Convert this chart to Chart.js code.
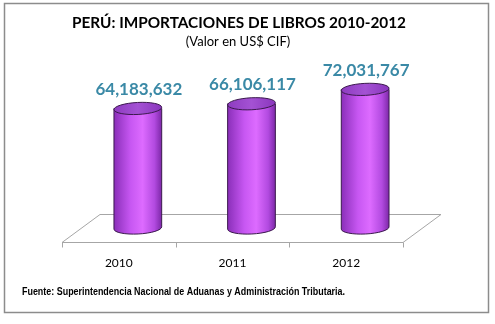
<!DOCTYPE html>
<html>
<head>
<meta charset="utf-8">
<script src="https://cdn.jsdelivr.net/npm/chart.js@4.4.1/dist/chart.umd.min.js"></script>
<style>
  html, body { margin: 0; padding: 0; background: #fff; }
  #wrap { width: 495px; height: 324px; position: relative; }
</style>
</head>
<body>
<div id="wrap"><canvas id="chart" width="495" height="324"></canvas></div>
<script>
const years = ['2010', '2011', '2012'];
const imports = [64183632, 66106117, 72031767];
const titleText = 'PERÚ: IMPORTACIONES DE LIBROS 2010-2012';
const subtitleText = '(Valor en US$ CIF)';
const sourceText = 'Fuente: Superintendencia Nacional de Aduanas y Administración Tributaria.';

// 3d look of the floor
const depthX = 38;
const depthY = 28;

const fmt = (v) => v.toLocaleString('en-US');

const cylinders = {
    id: 'cylinders',
    beforeDraw: (chart) => {
        const ctx = chart.ctx;
        ctx.save();
        ctx.fillStyle = '#fff';
        ctx.fillRect(0, 0, chart.width, chart.height);
        // outer border
        ctx.strokeStyle = '#8c8c8c';
        ctx.lineWidth = 1.5;
        ctx.strokeRect(4.5, 3.5, 484, 309);
        // titles
        ctx.fillStyle = '#000';
        ctx.textAlign = 'center';
        ctx.textBaseline = 'middle';
        ctx.font = 'bold 16px Lato';
        ctx.fillText(titleText, 239, 23, 334);
        ctx.font = '13px Lato';
        ctx.fillText(subtitleText, 238, 42, 108);
        ctx.textAlign = 'left';
        ctx.font = 'bold 10.5px "Liberation Sans"';
        ctx.fillText(sourceText, 22, 292, 323);
        ctx.restore();
    },
    beforeDatasetsDraw: (chart) => {
        const ctx = chart.ctx;
        const a = chart.chartArea;
        const xs = chart.scales.x;
        const y0 = Math.round(a.bottom) + 0.5;
        ctx.save();
        ctx.strokeStyle = '#a6a6a6';
        ctx.lineWidth = 1;
        ctx.beginPath();
        ctx.moveTo(a.left, y0);
        ctx.lineTo(a.right, y0);
        ctx.lineTo(a.right + depthX, y0 - depthY);
        ctx.lineTo(a.left + depthX, y0 - depthY);
        ctx.closePath();
        ctx.stroke();
        const step = (a.right - a.left) / years.length;
        for (let i = 0; i <= years.length; i++) {
            const x = Math.round(xs.left + i * step) + 0.5;
            ctx.beginPath();
            ctx.moveTo(x, y0);
            ctx.lineTo(x, y0 + 5);
            ctx.stroke();
        }
        ctx.restore();
    },
    afterDatasetsDraw: (chart) => {
        const ctx = chart.ctx;
        const meta = chart.getDatasetMeta(0);
        const bottom = chart.chartArea.bottom;
        meta.data.forEach((bar, i) => {
            const cx = bar.x + depthX / 2;
            const top = bar.y - depthY / 2;
            const base = bottom - depthY / 2;
            const rx = bar.width / 2;
            const ry = 6;
            const rot = -0.05;

            ctx.save();
            const g = ctx.createLinearGradient(cx - rx, 0, cx + rx, 0);
            g.addColorStop(0, '#8a2fb9');
            g.addColorStop(0.35, '#c757f2');
            g.addColorStop(0.6, '#dd6bff');
            g.addColorStop(0.85, '#b24ae0');
            g.addColorStop(1, '#7d28a8');

            ctx.beginPath();
            ctx.moveTo(cx - rx, top);
            ctx.lineTo(cx - rx, base);
            ctx.ellipse(cx, base, rx, ry, rot, Math.PI, 0, true);
            ctx.lineTo(cx + rx, top);
            ctx.closePath();
            ctx.fillStyle = g;
            ctx.fill();
            ctx.strokeStyle = '#3b1a4d';
            ctx.lineWidth = 1;
            ctx.stroke();

            const gt = ctx.createLinearGradient(cx - rx, 0, cx + rx, 0);
            gt.addColorStop(0, '#8e3cc0');
            gt.addColorStop(0.5, '#a452d4');
            gt.addColorStop(1, '#8a36bd');
            ctx.beginPath();
            ctx.ellipse(cx, top, rx, ry, rot, 0, Math.PI * 2);
            ctx.fillStyle = gt;
            ctx.fill();
            ctx.stroke();

            ctx.fillStyle = '#3a89a6';
            ctx.font = 'bold 17px Lato';
            ctx.textAlign = 'center';
            ctx.textBaseline = 'middle';
            ctx.fillText(fmt(imports[i]), cx + 1, top - ry - 13);
            ctx.restore();
        });
    }
};

new Chart(document.getElementById('chart'), {
    type: 'bar',
    data: {
        labels: years,
        datasets: [{
            label: 'Importaciones',
            data: imports,
            backgroundColor: 'rgba(0,0,0,0)',
            borderWidth: 0,
            categoryPercentage: 1,
            barPercentage: 0.42
        }]
    },
    options: {
        responsive: false,
        animation: false,
        layout: { padding: { left: 62, right: 92, top: 84, bottom: 52 } },
        plugins: {
            legend: { display: false },
            title: { display: false },
            tooltip: { enabled: false }
        },
        scales: {
            x: {
                grid: { display: false },
                border: { display: false },
                ticks: { color: '#000', font: { family: 'Lato', size: 12 }, padding: 6 },
                afterFit: (s) => { s.height = 30; }
            },
            y: {
                display: false,
                min: 15000000,
                max: 80000000
            }
        }
    },
    plugins: [cylinders]
});
</script>
</body>
</html>
